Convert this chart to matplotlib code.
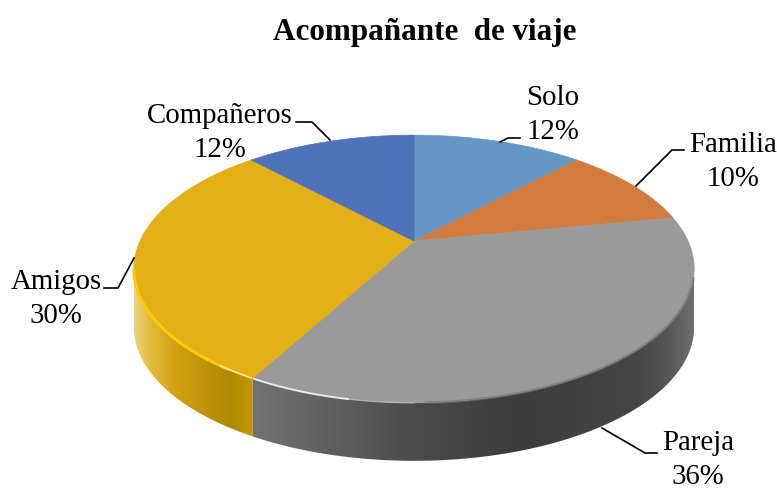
import numpy as np
import matplotlib
matplotlib.use("Agg")
import matplotlib.pyplot as plt
from matplotlib.colors import to_rgb
from matplotlib.patches import Polygon

plt.rcParams["font.family"] = ["Liberation Serif", "DejaVu Serif"]

# data, clockwise from 12 o'clock
names = ["Solo", "Familia", "Pareja", "Amigos", "Compañeros"]
shares = [12, 10, 36, 30, 12]
top_colors = ["#6497c5", "#d37c3f", "#9a9a9a", "#e2b015", "#4f73b8"]

# label placement (pixels)
label_xy = [(553, 115), (733, 162), (698, 460), (56, 299), (220, 133)]
leaders = [
    [(500, 142), (508, 138), (520, 138)],
    [(636, 186), (672, 150), (684, 150)],
    [(602, 428), (645, 453), (657, 453)],
    [(134, 258), (118, 288), (104, 288)],
    [(330, 140), (312, 122), (296, 122)],
]

# perspective of the disc
CX, CY = 414, 241
RX, RY = 274, 128
K = 0.209
DEPTH = 58

# shading of the side wall, x position -> colour
side_stops = {
    "Pareja": ([253, 330, 420, 520, 640, 672, 695],
               ["#727272", "#606060", "#4a4a4a", "#3c3c3c", "#464646", "#585858", "#707070"]),
    "Amigos": ([134, 150, 175, 230, 253],
               ["#ecd27a", "#e2bb3c", "#d3a011", "#ae8805", "#c59804"]),
}


def project(theta):
    # theta in radians, clockwise from the back of the disc
    w = 1 + K * np.cos(theta)
    return CX + RX * np.sin(theta) / w, CY - RY * np.cos(theta) / w


fig = plt.figure(figsize=(7.77, 4.91), dpi=100)
ax = fig.add_axes([0, 0, 1, 1])
ax.axis("off")

edges = np.deg2rad(np.cumsum([0] + shares) * 3.6)

# side wall, only what faces the viewer
for name, t0, t1 in zip(names, edges[:-1], edges[1:]):
    if name not in side_stops:
        continue
    a0 = max(t0, np.deg2rad(102))
    a1 = min(t1, np.deg2rad(258))
    px, py = project(np.linspace(a0, a1, 200))
    outline = list(zip(px, py)) + list(zip(px[::-1], py[::-1] + DEPTH))
    wall = Polygon(outline, closed=True, fc="none", ec="none", transform=ax.transData)
    ax.add_patch(wall)
    xs, cols = side_stops[name]
    rgb = np.array([to_rgb(c) for c in cols])
    grid = np.linspace(px.min(), px.max(), 300)
    img = np.stack([np.interp(grid, xs, rgb[:, i]) for i in range(3)], axis=-1)[None, :, :]
    im = ax.imshow(img, extent=(px.min(), px.max(), py.max() + DEPTH, py.min()),
                   aspect="auto", interpolation="bilinear", zorder=2)
    im.set_clip_path(wall)

ax.set_xlim(0, 777)
ax.set_ylim(491, 0)

# top face
for name, col, t0, t1 in zip(names, top_colors, edges[:-1], edges[1:]):
    th = np.linspace(t0, t1, 120)
    px, py = project(th)
    pts = [(CX, CY)] + list(zip(px, py))
    ax.add_patch(Polygon(pts, closed=True, fc=col, ec=col, lw=0.5, zorder=3))

# rim highlight and bevel
for col, a0, a1, lw, alpha in [
    ("#ffc90a", 214, 258, 2.2, 1.0),
    ("#fff0a0", 209, 216, 1.2, 0.9),
    ("#f2f2f2", 191, 208.5, 1.4, 0.9),
    ("#c8c8c8", 180, 191, 1.0, 0.5),
    ("#6e6e6e", 106, 178, 2.0, 0.55),
]:
    px, py = project(np.deg2rad(np.linspace(a0, a1, 80)))
    ax.plot(px, py, color=col, lw=lw, alpha=alpha, solid_capstyle="round", zorder=4)

for pts in leaders:
    lx, ly = zip(*pts)
    ax.plot(lx, ly, color="black", lw=1.2, zorder=5)

for name, share, (x, y) in zip(names, shares, label_xy):
    ax.text(x, y, f"{name}\n{share}%", ha="center", va="center",
            fontsize=20.8, linespacing=1.4, color="black", zorder=6)

ax.text(425, 32, "Acompañante  de viaje", ha="center", va="center",
        fontsize=22.4, fontweight="bold", color="black")

fig.savefig("out.png", dpi=100)
